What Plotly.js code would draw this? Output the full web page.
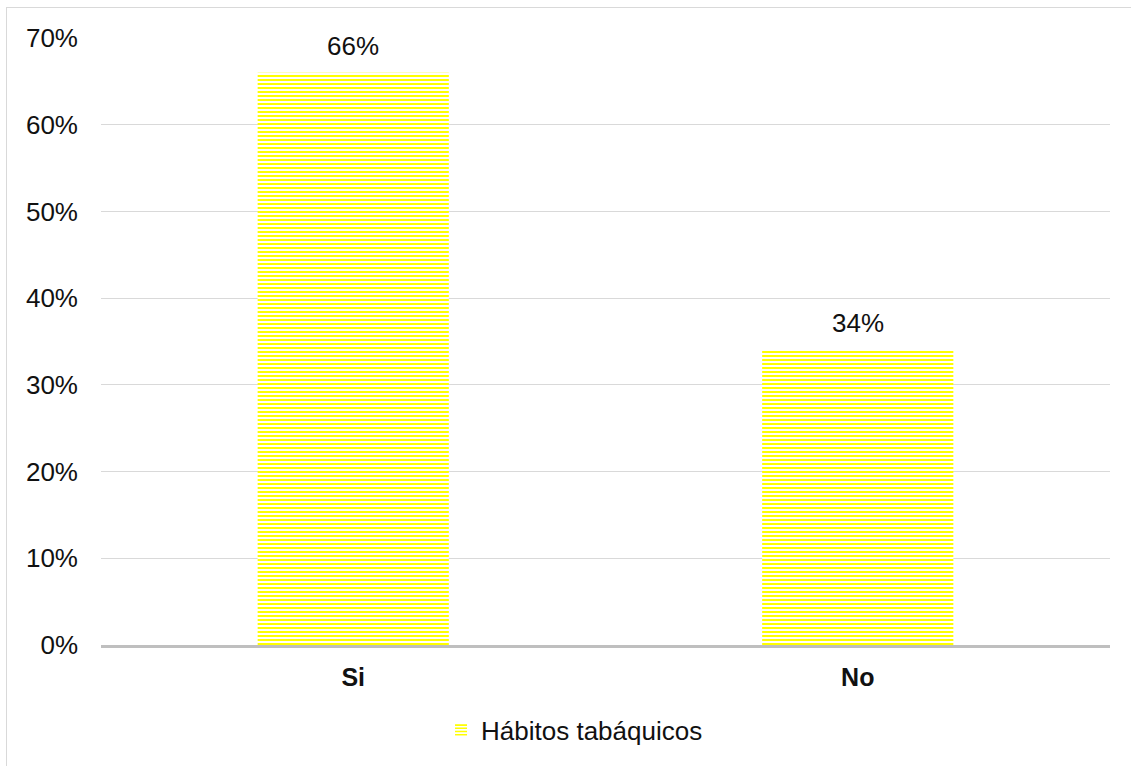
<!DOCTYPE html>
<html>
<head>
<meta charset="utf-8">
<script src="https://cdn.plot.ly/plotly-3.0.1.min.js"></script>
<style>
html,body{margin:0;padding:0;overflow:hidden;background:#fff;}
#wrap{position:relative;width:1131px;height:766px;}
#chart{position:absolute;left:0;top:0;width:1131px;height:766px;}
#frame{position:absolute;left:6px;top:7px;width:1200px;height:900px;border:1px solid #d9d9d9;pointer-events:none;}
</style>
</head>
<body>
<div id="wrap"><div id="chart"></div><div id="frame"></div></div>
<script>
const categories = ['<b>Si</b>', '<b>No</b>'];
const values = [0.66, 0.34];
const valueLabels = ['66%', '34%'];
const seriesName = 'Hábitos tabáquicos';

const FONT = 'Liberation Sans, Arial, sans-serif';
const TXT = '#111';

const trace = {
  type: 'bar',
  x: categories,
  y: values,
  name: seriesName,
  showlegend: true,
  marker: {
    color: '#FFFF00',
    line: {width: 0},
    pattern: {shape: '-', fgcolor: '#FFFF00', bgcolor: '#FFFFFF', size: 4, solidity: 0.5, fillmode: 'replace'}
  },
  hoverinfo: 'none'
};

const annotations = categories.map((c, i) => ({
  x: c, y: values[i], xref: 'x', yref: 'y',
  text: valueLabels[i], showarrow: false,
  yanchor: 'bottom', yshift: 10,
  font: {family: FONT, size: 26, color: TXT}
}));

const layout = {
  width: 1131, height: 766,
  margin: {l: 101, r: 21, t: 38, b: 118},
  paper_bgcolor: 'rgba(0,0,0,0)',
  plot_bgcolor: '#fff',
  font: {family: FONT, size: 26, color: TXT},
  bargap: 0.621,
  showlegend: true,
  annotations: annotations,
  legend: {orientation: 'h', x: 0.337, xanchor: 'left', y: -0.14, yanchor: 'middle',
           itemwidth: 30,
           font: {family: FONT, size: 26, color: TXT}, bgcolor: 'rgba(0,0,0,0)'},
  xaxis: {
    type: 'category',
    showgrid: false,
    showline: true, linecolor: '#BFBFBF', linewidth: 3,
    ticks: '', ticklabelstandoff: 8,
    tickfont: {family: FONT, size: 25, color: TXT}
  },
  yaxis: {
    range: [0, 0.7],
    dtick: 0.1,
    tickformat: '.0%',
    showgrid: true, gridcolor: '#D9D9D9', gridwidth: 1,
    zeroline: false, showline: false,
    ticks: '', ticklabelstandoff: 22,
    tickfont: {family: FONT, size: 26, color: TXT}
  }
};

Plotly.newPlot('chart', [trace], layout, {displayModeBar: false, staticPlot: true});
</script>
</body>
</html>
